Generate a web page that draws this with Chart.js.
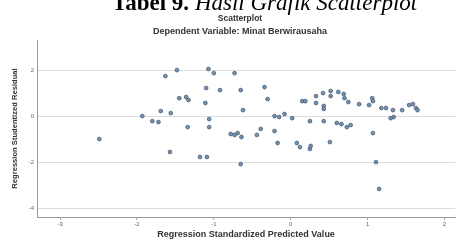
<!DOCTYPE html>
<html><head><meta charset="utf-8">
<script src="https://cdn.jsdelivr.net/npm/chart.js@4/dist/chart.umd.min.js"></script>
<style>
html,body{margin:0;padding:0;background:#fff;}
#wrap{position:relative;width:460px;height:240px;overflow:hidden;background:#fff;}
#cap{position:absolute;left:112px;top:-9px;white-space:nowrap;font-family:"Liberation Serif","Times New Roman",serif;font-size:23px;line-height:23px;color:#000;}
#cap b{font-weight:bold;}
#cap i{font-style:italic;}
.t{position:absolute;left:10px;width:460px;text-align:center;font-family:"Liberation Sans",Arial,sans-serif;font-weight:bold;color:#333;white-space:nowrap;}
#t1{top:13px;font-size:8.5px;line-height:10px;}
#t2{top:26px;font-size:9px;line-height:10px;}
canvas{position:absolute;left:0;top:0;}
</style></head>
<body>
<div id="wrap">
<canvas id="c" width="460" height="240"></canvas>
<div id="cap"><b>Tabel 9.</b> <i>Hasil Grafik Scatterplot</i></div>
<div class="t" id="t1">Scatterplot</div>
<div class="t" id="t2">Dependent Variable: Minat Berwirausaha</div>
</div>
<script>
const predictedValues = [-2.49,-1.93,-1.80,-1.72,-1.69,-1.56,-1.63,-1.48,-1.45,-1.36,
 -1.33,-1.34,-1.57,-1.18,-1.09,-1.11,-1.10,-1.07,-1.00,-1.06,
 -1.06,-0.92,-0.73,-0.65,-0.62,-0.78,-0.73,-0.69,-0.64,-0.65,
 -0.44,-0.39,-0.34,-0.30,-0.21,-0.21,-0.15,-0.08,0.02,-0.17,
 0.08,0.12,0.25,0.26,0.51,0.15,0.19,0.25,0.33,0.33,
 0.42,0.43,0.43,0.43,0.52,0.52,0.62,0.69,0.70,0.75,
 0.60,0.66,0.73,0.78,0.89,1.02,1.06,1.07,1.07,1.11,
 1.15,1.18,1.24,1.33,1.30,1.34,1.45,1.54,1.59,1.63,1.65];
const residualValues = [-0.98,0.02,-0.20,-0.24,0.24,0.15,1.76,2.02,0.80,0.85,
 0.72,-0.46,-1.54,-1.76,-1.76,0.59,1.24,2.07,1.89,-0.11,
 -0.46,1.15,1.89,1.15,0.28,-0.76,-0.80,-0.72,-0.89,-2.07,
 -0.80,-0.54,1.28,0.76,-0.63,0.02,-0.02,0.11,-0.07,-1.15,
 -1.15,-1.33,-1.41,-1.28,-1.11,0.67,0.67,-0.20,0.89,0.59,
 1.02,0.46,0.33,-0.20,1.11,0.89,1.07,0.98,0.80,0.63,
 -0.28,-0.33,-0.46,-0.37,0.54,0.50,0.80,0.67,-0.72,-1.98,
 -3.15,0.37,0.37,0.28,-0.07,-0.02,0.28,0.50,0.54,0.37,0.28];
const xTitle = 'Regression Standardized Predicted Value';
const yTitle = 'Regression Studentized Residual';

const FONT = '"Liberation Sans", Arial, sans-serif';
const points = predictedValues.map((x, i) => ({x: x, y: residualValues[i]}));

new Chart(document.getElementById('c'), {
  type: 'scatter',
  data: { datasets: [{
    data: points,
    pointRadius: 1.9,
    pointBackgroundColor: '#7393b2',
    pointBorderColor: '#4b5d71',
    pointBorderWidth: 0.8
  }]},
  options: {
    responsive: false, animation: false, devicePixelRatio: 1,
    layout: { padding: { top: 40, left: 0, right: 0, bottom: 0 } },
    plugins: { legend: { display: false }, tooltip: { enabled: false } },
    scales: {
      x: {
        type: 'linear', min: -3.3, max: 2.14,
        ticks: { stepSize: 1, includeBounds: false, autoSkip: false, maxRotation: 0,
                 font: { family: FONT, size: 6 }, color: '#666', padding: 1 },
        grid: { drawOnChartArea: false, drawTicks: true, tickLength: 3, color: '#aaa' },
        border: { color: '#999', width: 1 },
        title: { display: true, text: xTitle, color: '#333',
                 font: { family: FONT, size: 9, weight: 'bold' }, padding: { top: 1, bottom: 0 } },
        afterFit(s) { s.height = 23; }
      },
      y: {
        type: 'linear', min: -4.37, max: 3.33,
        ticks: { stepSize: 2, includeBounds: false, font: { family: FONT, size: 6 }, color: '#666', padding: 3 },
        grid: { drawTicks: false, color: '#dcdcdc' },
        border: { color: '#999', width: 1 },
        title: { display: true, text: yTitle, color: '#333',
                 font: { family: FONT, size: 7.6, weight: 'bold' }, padding: { top: 10, bottom: 0 } },
        afterFit(s) { s.width = 37; }
      }
    }
  }
});
</script>
</body></html>
